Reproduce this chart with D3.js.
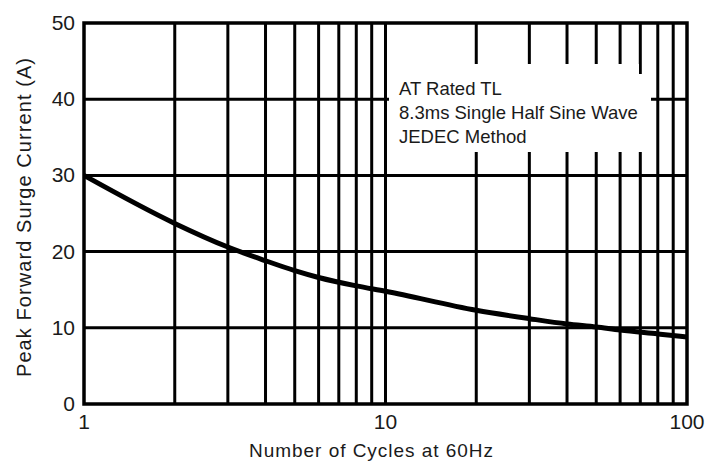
<!DOCTYPE html>
<html><head><meta charset="utf-8">
<script src="https://cdn.jsdelivr.net/npm/d3@7"></script>
<style>body{margin:0;background:#fff}svg{display:block}text{font-family:"Liberation Sans",Arial,sans-serif;fill:#1a1a1a}</style>
</head><body>
<script>
const cycles = [1, 2, 3, 4, 5, 6, 8, 10, 20, 30, 40, 50, 60, 80, 100];
const current = [30, 23.7, 20.6, 18.8, 17.5, 16.6, 15.5, 14.8, 12.3, 11.2, 10.5, 10.1, 9.7, 9.2, 8.8];
const xTicks = [1, 10, 100];
const xGrid = [2, 3, 4, 5, 6, 7, 8, 9, 10, 20, 30, 40, 50, 60, 70, 80, 90];
const yTicks = [0, 10, 20, 30, 40, 50];
const noteLines = ["AT Rated TL", "8.3ms Single Half Sine Wave", "JEDEC Method"];
const xTitle = "Number of Cycles at 60Hz";
const yTitle = "Peak Forward Surge Current (A)";

const W = 719, H = 464;
const svg = d3.select("body").append("svg").attr("width", W).attr("height", H);
const x = d3.scaleLog().domain([1, 100]).range([84, 687]);
const y = d3.scaleLinear().domain([0, 50]).range([404, 23]);

// grid
svg.append("g").selectAll("line").data(xGrid).join("line")
  .attr("x1", d => x(d)).attr("x2", d => x(d)).attr("y1", y(50)).attr("y2", y(0))
  .attr("stroke", "#000").attr("stroke-width", 3);
svg.append("g").selectAll("line").data(yTicks.filter(d => d > 0 && d < 50)).join("line")
  .attr("x1", x(1)).attr("x2", x(100)).attr("y1", d => y(d)).attr("y2", d => y(d))
  .attr("stroke", "#000").attr("stroke-width", 3);

// annotation background
svg.append("rect").attr("x", 389).attr("y", 64).attr("width", 250).attr("height", 88).attr("fill", "#fff");
svg.append("rect").attr("x", 638).attr("y", 74).attr("width", 13).attr("height", 78).attr("fill", "#fff");
svg.append("g").selectAll("text").data(noteLines).join("text")
  .attr("x", 399).attr("y", (d, i) => 95 + i * 24)
  .attr("font-size", 18.5).text(d => d);

// curve
const line = d3.line().x((d, i) => x(cycles[i])).y(d => y(d)).curve(d3.curveMonotoneX);
svg.append("path").datum(current).attr("d", line)
  .attr("fill", "none").attr("stroke", "#000").attr("stroke-width", 5);

// frame
svg.append("rect").attr("x", x(1)).attr("y", y(50)).attr("width", x(100) - x(1)).attr("height", y(0) - y(50))
  .attr("fill", "none").attr("stroke", "#000").attr("stroke-width", 3.5);

// axes labels
svg.append("g").selectAll("text").data(yTicks).join("text")
  .attr("x", 75).attr("y", d => y(d) + 7).attr("text-anchor", "end")
  .attr("font-size", 21).text(d => d);
svg.append("g").selectAll("text").data(xTicks).join("text")
  .attr("x", d => x(d)).attr("y", 429).attr("text-anchor", "middle")
  .attr("font-size", 21).text(d => d);

svg.append("text").attr("x", 249).attr("y", 457)
  .attr("font-size", 19).attr("textLength", 244).attr("lengthAdjust", "spacing").text(xTitle);
svg.append("text").attr("transform", `translate(31,377) rotate(-90)`)
  .attr("font-size", 20).attr("textLength", 319).attr("lengthAdjust", "spacing").text(yTitle);
</script>
</body></html>
